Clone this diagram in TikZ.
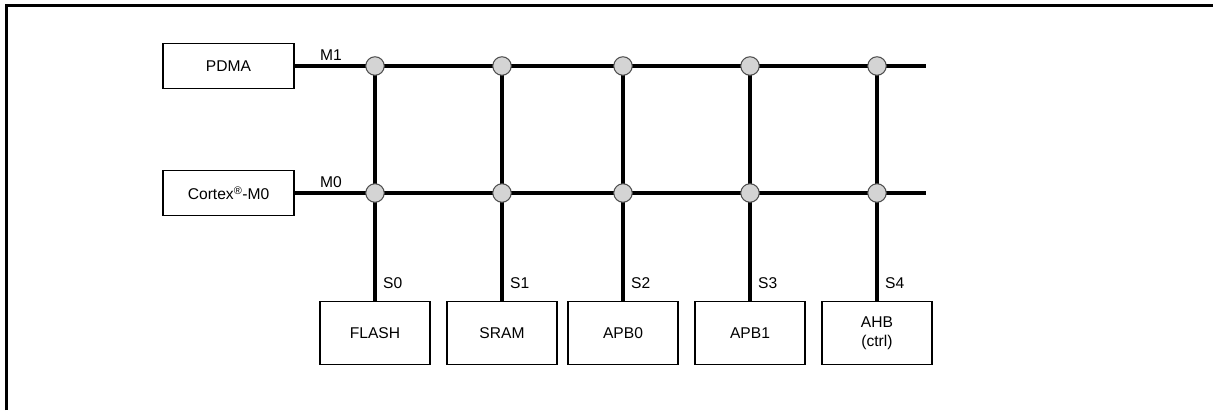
\documentclass[tikz,border=0pt]{standalone}
\usepackage{fontspec}
\setmainfont{Liberation Sans}

\begin{document}
\begin{tikzpicture}[x=1pt,y=-1pt]
        \tikzset{every node/.style={font=\fontsize{15.6}{19.5}\selectfont},
          master/.style={draw,line width=1.2pt,minimum width=131pt,minimum height=45pt,inner sep=0pt},
          slave/.style={draw,line width=1.2pt,minimum width=110pt,minimum height=63pt,inner sep=0pt,align=center},
          junction/.style={circle,draw=black!70,fill=black!17,line width=1pt,minimum size=18.5pt,inner sep=0pt},
          bus/.style={line width=4pt},
          buslabel/.style={inner sep=0pt}}
        \useasboundingbox (0,0) rectangle (1213,410);
        \draw[line width=3pt] (6,410) -- (6,5) -- (1213,5);
        % masters
        \node[master] (pdma) at (228.5,66) {PDMA};
        \node[master] (cortex) at (228.5,193) {Cortex\textsuperscript{\textregistered}-M0};
        \coordinate (end1) at (926,66);
        \coordinate (end0) at (926,193);
        \draw[bus] (pdma.east) -- (end1);
        \draw[bus] (cortex.east) -- (end0);
        \node[buslabel] (m1) at (331,55) {M1};
        \node[buslabel] (m0) at (331,182) {M0};
        % slaves
        \foreach \x/\name/\txt [count=\i from 0] in
            {375/flash/FLASH, 502/sram/SRAM, 623/apb0/APB0,
             750/apb1/APB1, 877/ahb/{AHB\\(ctrl)}}
          {
          \node[slave,anchor=north] (\name) at (\x,301) {\txt};
          \coordinate (c1-\i) at (\x,66);
          \coordinate (c0-\i) at (\x,193);
          \draw[bus] (c1-\i) -- (\name.north);
          \node[junction] (j1-\i) at (c1-\i) {};
          \node[junction] (j0-\i) at (c0-\i) {};
          \node[buslabel,anchor=west] (s\i) at (\x+8,283) {S\i};
          }
      \end{tikzpicture}
\end{document}
